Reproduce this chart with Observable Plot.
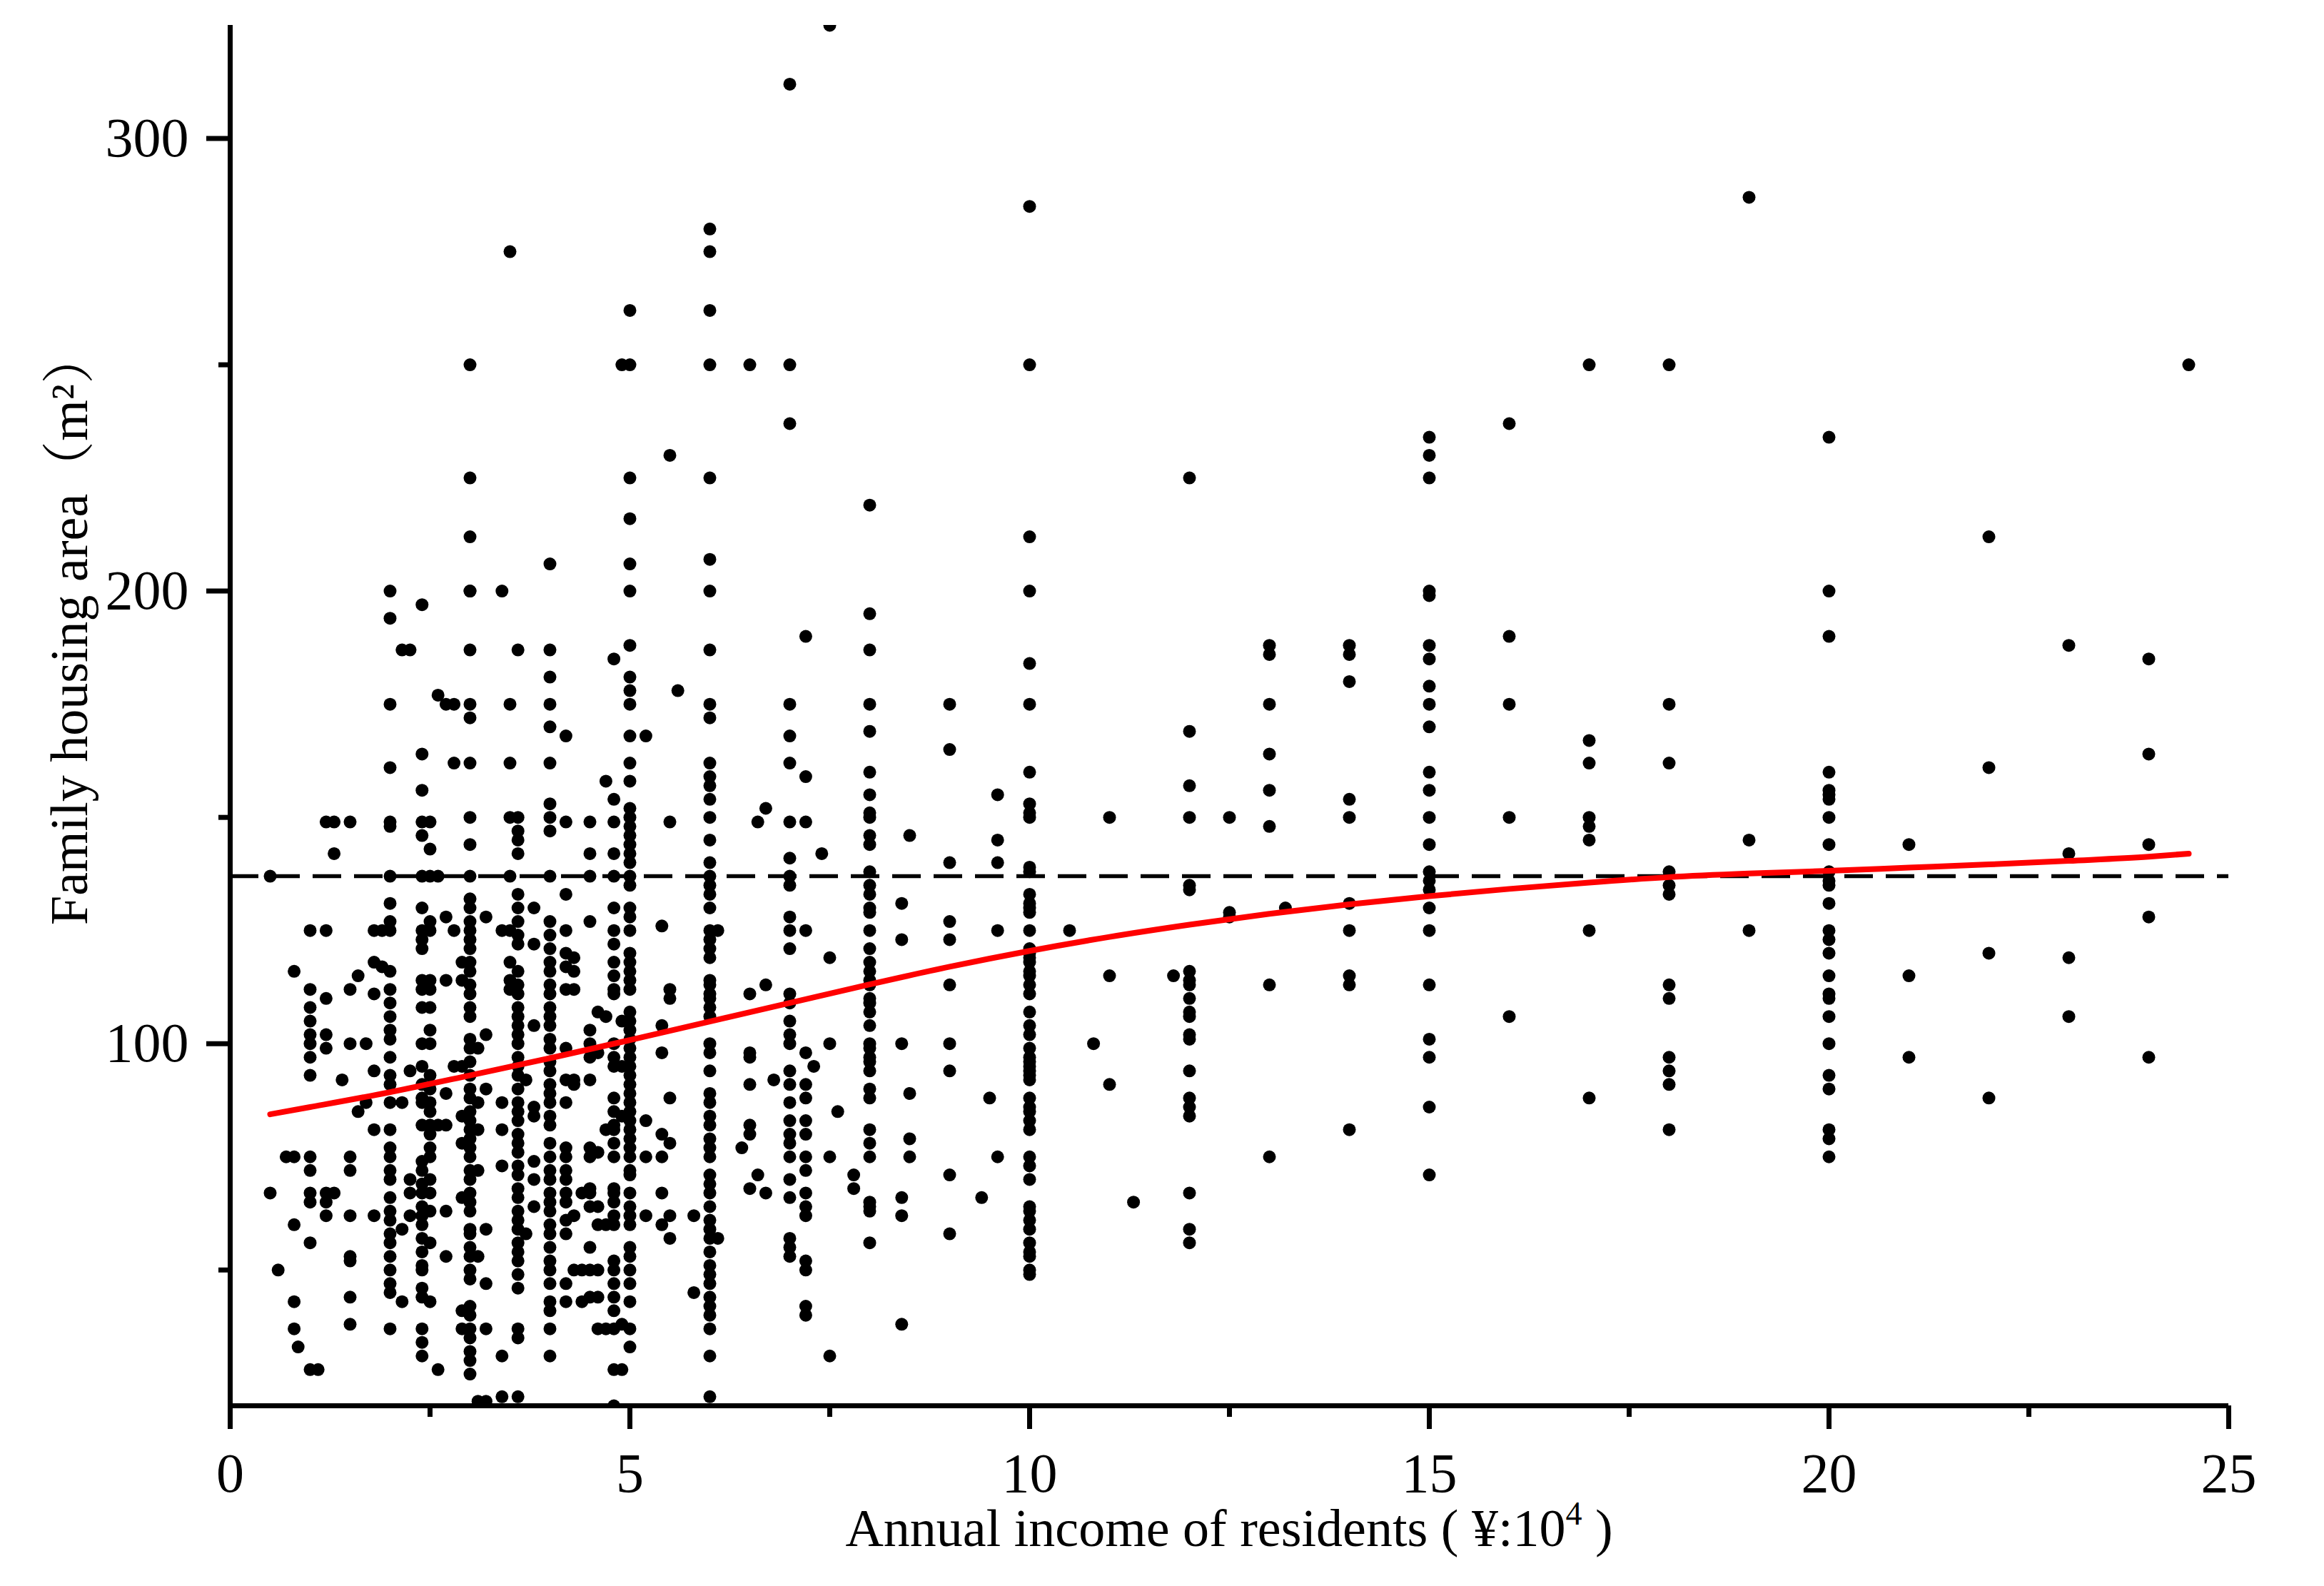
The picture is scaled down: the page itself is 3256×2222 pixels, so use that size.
<!DOCTYPE html>
<html>
<head>
<meta charset="utf-8">
<script src="https://cdn.jsdelivr.net/npm/d3@7"></script>
<script src="https://cdn.jsdelivr.net/npm/@observablehq/plot@0.6"></script>
<style>
  html, body { margin: 0; padding: 0; background: #ffffff; }
  #chart svg { display: block; }
</style>
</head>
<body>
<div id="chart"></div>
<script>
// ---- data ----
// income levels (x, ¥ 10^4) and the housing areas (m²) recorded at each level
const incomeLevels = [0.5, 0.6, 0.7, 0.8, 0.85, 1.0, 1.1, 1.2, 1.3, 1.4, 1.5, 1.6, 1.7, 1.8, 1.9,
  2.0, 2.15, 2.25, 2.4, 2.5, 2.6, 2.7, 2.8, 2.9, 3.0, 3.1, 3.2, 3.4, 3.5, 3.6, 3.7, 3.8,
  4.0, 4.2, 4.3, 4.4, 4.5, 4.6, 4.7, 4.8, 4.9, 5.0, 5.2, 5.4, 5.5, 5.6, 5.8,
  6.0, 6.1, 6.4, 6.5, 6.6, 6.7, 6.8, 7.0, 7.2, 7.3, 7.4, 7.5, 7.6, 7.8,
  8.0, 8.4, 8.5, 9.0, 9.4, 9.5, 9.6, 10, 10.5, 10.8, 11, 11.3, 11.8, 12, 12.5, 13, 13.2, 14,
  15, 16, 17, 18, 19, 20, 21, 22, 23, 24, 24.5];

const housingAreas = [
  [137, 67],
  [50],
  [75],
  [116, 75, 60, 43, 37],
  [33],
  [125, 112, 108, 105, 102, 100, 97, 93, 75, 72, 67, 65, 56, 28],
  [28],
  [149, 125, 110, 102, 99, 67, 65, 62],
  [149, 142, 67],
  [92],
  [149, 112, 100, 75, 72, 62, 53, 52, 44, 38],
  [115, 85],
  [100, 87],
  [125, 118, 111, 94, 81, 62],
  [125, 117],
  [200, 194, 175, 161, 149, 148, 137, 131, 127, 125, 116, 112, 109, 106, 103, 101, 97, 93, 91, 87, 81, 77, 75, 72, 70, 66, 63, 61, 58, 56, 53, 50, 47, 45, 37],
  [187, 87, 59, 43],
  [187, 94, 70, 67, 62],
  [197, 164, 156, 149, 146, 137, 130, 125, 123, 121, 114, 112, 108, 100, 95, 91, 88, 87, 82, 74, 72, 69, 67, 64, 62, 60, 57, 54, 51, 50, 46, 44, 37, 34, 31],
  [149, 143, 137, 127, 125, 114, 112, 108, 103, 100, 93, 90, 87, 85, 82, 80, 77, 75, 70, 67, 63, 56, 43],
  [177, 137, 82, 28],
  [175, 128, 114, 89, 82, 63, 53],
  [175, 162, 125, 95],
  [118, 114, 95, 84, 78, 66, 41, 37],
  [250, 225, 212, 200, 200, 187, 175, 172, 162, 150, 144, 137, 132, 130, 127, 125, 123, 121, 118, 116, 113, 111, 108, 106, 101, 99, 96, 93, 90, 88, 85, 83, 81, 79, 77, 75, 72, 70, 67, 65, 63, 59, 58, 55, 53, 50, 48, 42, 40, 37, 35, 32, 30, 27],
  [99, 87, 81, 72, 53, 21],
  [128, 102, 90, 59, 47, 37, 21],
  [200, 125, 87, 81, 73, 31, 22],
  [275, 175, 162, 150, 137, 125, 118, 114, 112],
  [187, 150, 147, 145, 142, 133, 130, 127, 124, 122, 116, 113, 111, 108, 106, 104, 102, 100, 97, 95, 93, 90, 87, 85, 83, 80, 78, 76, 73, 71, 68, 66, 63, 61, 59, 56, 54, 52, 49, 46, 37, 35, 22],
  [92, 58],
  [130, 122, 104, 86, 84, 74, 70, 64],
  [206, 187, 181, 175, 170, 162, 153, 150, 147, 137, 127, 124, 121, 118, 116, 113, 111, 108, 106, 104, 101, 99, 96, 94, 91, 89, 87, 84, 82, 78, 75, 72, 70, 67, 65, 63, 60, 58, 55, 52, 50, 47, 43, 41, 37, 31],
  [168, 149, 133, 125, 120, 117, 112, 99, 92, 87, 77, 75, 72, 70, 67, 65, 61, 58, 47, 43],
  [119, 116, 112, 92, 91, 62, 50],
  [67, 50, 43],
  [149, 142, 137, 127, 103, 100, 97, 92, 77, 75, 68, 67, 64, 55, 50, 44],
  [107, 98, 76, 64, 60, 50, 44, 37],
  [158, 106, 81, 60, 37],
  [185, 154, 149, 142, 137, 130, 125, 122, 118, 115, 112, 111, 100, 97, 95, 88, 85, 82, 81, 78, 75, 68, 67, 65, 62, 60, 52, 50, 47, 44, 41, 37, 28, 20],
  [250, 105, 95, 84, 38, 28],
  [262, 250, 225, 216, 206, 200, 188, 181, 178, 175, 168, 162, 158, 152, 150, 148, 146, 144, 142, 140, 137, 135, 130, 128, 125, 120, 118, 116, 114, 112, 107, 105, 103, 101, 99, 97, 95, 93, 91, 89, 87, 85, 83, 81, 79, 77, 75, 72, 71, 67, 64, 62, 60, 55, 53, 50, 47, 43, 37, 33],
  [168, 83, 75, 62],
  [126, 104, 98, 80, 75, 67, 60],
  [230, 149, 112, 110, 88, 78, 62, 57],
  [178],
  [62, 45],
  [280, 275, 262, 250, 225, 207, 200, 187, 175, 172, 162, 159, 157, 154, 150, 145, 140, 137, 135, 133, 130, 125, 123, 121, 119, 114, 113, 111, 110, 108, 106, 100, 98, 94, 89, 87, 84, 82, 79, 77, 75, 71, 69, 67, 64, 61, 59, 57, 54, 51, 49, 47, 44, 42, 40, 37, 31, 22],
  [125, 57],
  [77],
  [250, 111, 98, 97, 91, 82, 80, 68],
  [149, 71],
  [152, 113, 67],
  [92],
  [312, 250, 237, 175, 168, 162, 149, 141, 137, 135, 128, 125, 121, 111, 109, 105, 102, 100, 94, 91, 87, 83, 80, 78, 75, 70, 66, 57, 55, 53],
  [190, 159, 149, 125, 98, 91, 88, 83, 80, 75, 72, 67, 64, 62, 52, 50, 42, 40],
  [95],
  [142],
  [325, 119, 100, 75, 31],
  [85],
  [71, 68],
  [219, 195, 187, 175, 169, 160, 155, 151, 150, 146, 144, 138, 135, 133, 130, 129, 125, 121, 118, 116, 114, 113, 110, 109, 107, 104, 100, 99, 97, 96, 94, 90, 88, 81, 78, 75, 65, 64, 63, 56],
  [131, 123, 100, 66, 62, 38],
  [146, 89, 79, 75],
  [175, 165, 140, 127, 123, 113, 100, 94, 71, 58],
  [66],
  [88],
  [155, 145, 140, 125, 75],
  [285, 250, 212, 200, 184, 175, 160, 153, 151, 150, 139, 138, 133, 131, 130, 129, 125, 121, 120, 119, 118, 116, 115, 113, 111, 107, 104, 102, 99, 97, 96, 95, 94, 93, 92, 88, 86, 85, 83, 81, 75, 73, 70, 64, 63, 61, 59, 56, 54, 53, 50, 49],
  [125],
  [100],
  [150, 115, 91],
  [65],
  [115],
  [225, 169, 157, 150, 135, 134, 116, 114, 113, 110, 107, 106, 102, 101, 94, 88, 86, 84, 67, 59, 56],
  [150, 129, 128],
  [188, 186, 175, 164, 156, 148, 113, 75],
  [130],
  [188, 186, 180, 154, 150, 131, 125, 115, 113, 81],
  [234, 230, 225, 200, 199, 188, 185, 179, 175, 170, 160, 156, 150, 144, 138, 136, 134, 130, 125, 113, 101, 97, 86, 71],
  [237, 190, 175, 150, 106],
  [250, 167, 162, 150, 148, 145, 125, 88],
  [250, 175, 162, 138, 135, 133, 113, 110, 97, 94, 91, 81],
  [287, 145, 125],
  [234, 200, 190, 160, 156, 155, 154, 150, 144, 138, 136, 135, 131, 125, 123, 120, 115, 111, 110, 106, 100, 93, 90, 81, 79, 75],
  [144, 115, 97],
  [212, 161, 120, 88],
  [188, 142, 119, 106],
  [185, 164, 144, 128, 97],
  [250]
];

// fitted trend (red curve)
const fitIncome = [0.5, 1, 2, 3, 4, 5, 6, 7, 8, 9, 10, 11, 12, 13, 14, 15, 16, 17, 18, 19, 20, 21, 22, 23, 24, 24.5];
const fitArea   = [84.4, 86, 89.3, 93, 96.8, 100.8, 104.9, 109, 113.1, 117, 120.5, 123.6, 126.3, 128.7, 130.8, 132.6, 134.2, 135.6, 136.8, 137.6, 138.2, 138.9, 139.6, 140.4, 141.3, 142];

// dashed reference level
const referenceArea = [137];

// axis ticks
const xMajorTicks = [0, 5, 10, 15, 20, 25];
const xMinorTicks = [2.5, 7.5, 12.5, 17.5, 22.5];
const yMajorTicks = [100, 200, 300];
const yMinorTicks = [50, 150, 250];

const xLabel = "Annual income of residents ( ¥:10";
const xLabelSup = "4";
const xLabelEnd = " )";
const yLabel = "Family housing area（m²）";

// ---- build tables ----
const points = incomeLevels.flatMap((x, i) => housingAreas[i].map(y => ({x, y})));
const fit = fitIncome.map((x, i) => ({x, y: fitArea[i]}));

const FONT = "'Liberation Serif', 'Times New Roman', 'Noto Serif CJK SC', 'Noto Sans CJK SC', serif";

const chart = Plot.plot({
  width: 3256,
  height: 2222,
  marginLeft: 322,
  marginRight: 134,
  marginTop: 35,
  marginBottom: 253,
  x: {domain: [0, 25]},
  y: {domain: [20, 325]},
  style: {background: "#ffffff", fontFamily: FONT, fontSize: "78px", color: "#000"},
  marks: [
    Plot.ruleY(referenceArea, {stroke: "#000", strokeWidth: 5.5, strokeDasharray: "40,18"}),
    Plot.dot(points, {x: "x", y: "y", r: 9, fill: "#000", stroke: null, clip: true}),
    Plot.line(fit, {x: "x", y: "y", stroke: "#ff0000", strokeWidth: 8, curve: "monotone-x"}),
    Plot.axisX({ticks: xMajorTicks, tickSize: 33, tickPadding: 32, strokeWidth: 7, fontSize: 78, label: null, tickFormat: d => String(d)}),
    Plot.axisX({ticks: xMinorTicks, tickSize: 16, strokeWidth: 7, label: null, tickFormat: () => ""}),
    Plot.axisY({ticks: yMajorTicks, tickSize: 33, tickPadding: 25, strokeWidth: 7, fontSize: 78, label: null, tickFormat: d => String(d)}),
    Plot.axisY({ticks: yMinorTicks, tickSize: 16, strokeWidth: 7, label: null, tickFormat: () => ""}),
    Plot.ruleX([0], {stroke: "#000", strokeWidth: 7}),
    Plot.ruleY([20], {stroke: "#000", strokeWidth: 7})
  ]
});

document.getElementById("chart").appendChild(chart);

// axis titles
const svg = d3.select(chart);
const xs = chart.scale("x");
const xt = svg.append("text")
  .attr("x", (xs.apply(0) + xs.apply(25)) / 2)
  .attr("y", 2166)
  .attr("text-anchor", "middle")
  .attr("font-family", FONT)
  .attr("font-size", 74)
  .attr("fill", "#000");
xt.append("tspan").text(xLabel);
xt.append("tspan").attr("dy", -30).attr("font-size", 46).text(xLabelSup);
xt.append("tspan").attr("dy", 30).text(xLabelEnd);

svg.append("text")
  .attr("transform", "translate(122,880) rotate(-90)")
  .attr("text-anchor", "middle")
  .attr("font-family", FONT)
  .attr("font-size", 74)
  .attr("fill", "#000")
  .text(yLabel);
</script>
</body>
</html>
